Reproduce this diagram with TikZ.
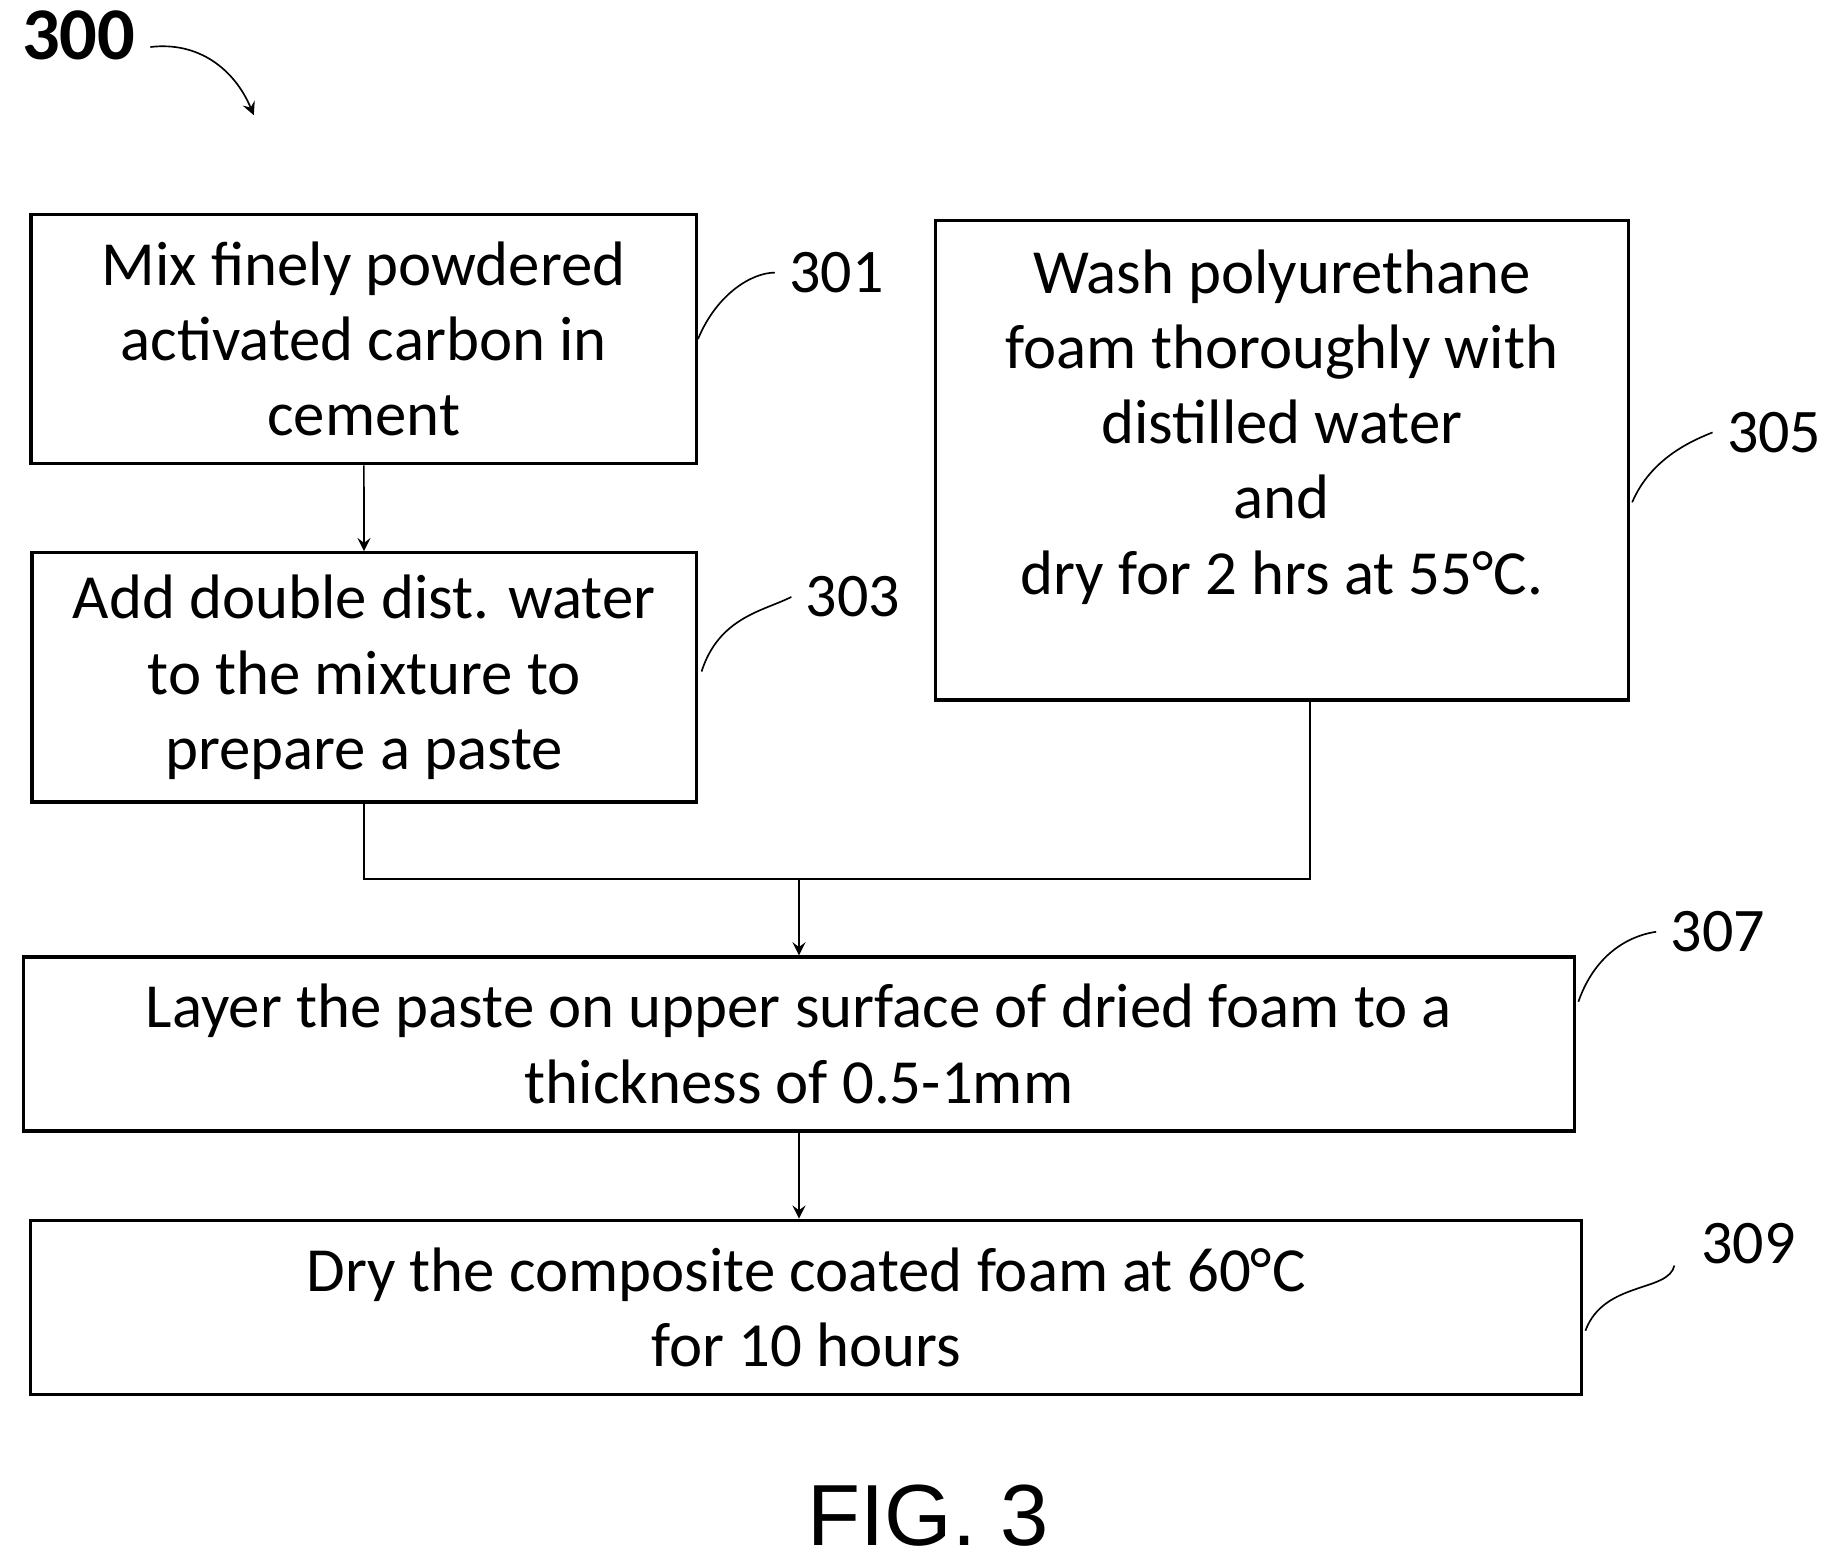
\documentclass[tikz,border=0pt]{standalone}
\usepackage{fontspec}
\setmainfont{Carlito}
\newfontfamily\capfont{Liberation Sans}
\usetikzlibrary{calc,positioning}
\tikzset{
  procbox/.style={draw,thick,inner sep=0pt,align=center,font=\fontsize{15.2}{18.2}\selectfont},
  refnum/.style={font=\fontsize{15}{18}\selectfont},
  squig/.style={thin},
  flow/.style={->,>=stealth,thin}
}
\begin{document}
\begin{tikzpicture}[x=0.01cm,y=-0.01cm]
\useasboundingbox (0,0) rectangle (1560,1332);
% boxes
\node[procbox,minimum width=5.66cm,minimum height=2.12cm] (mix) at (309.5,288.5) {Mix finely powdered\\activated carbon in\\cement};
\node[procbox,minimum width=5.65cm,minimum height=2.12cm] (add) at (310,576.5) {Add double dist. water\\to the mixture to\\prepare a paste};
\node[procbox,minimum width=5.89cm,minimum height=4.08cm] (wash) at (1091,391.5) {};
\node[align=center,font=\fontsize{15.2}{18.2}\selectfont,anchor=north] (washtxt) at (1091,200) {Wash polyurethane\\foam thoroughly with\\distilled water\\and\\dry for 2 hrs at 55°C.};
\node[procbox,minimum width=13.19cm,minimum height=1.48cm] (layer) at (680,888.5) {Layer the paste on upper surface of dried foam to a\\thickness of 0.5-1mm};
\node[procbox,minimum width=13.19cm,minimum height=1.48cm] (dry) at (686,1112.5) {Dry the composite coated foam at 60°C\\for 10 hours};
% connectors
\coordinate (join) at (680,748);
\draw[flow] (mix) -- (add);
\draw[thin] (add.south) |- (join) -| ($(wash.south)+(24,0)$);
\draw[flow] (join) -- (layer.north);
\draw[flow] (layer.south) -- (layer.south |- dry.north);
% reference numerals
\node[refnum] (n301) at (712,232) {301};
\node[refnum] (n303) at (726,508) {303};
\node[refnum] (n305) at (1510,368) {305};
\node[refnum] (n307) at (1462,793) {307};
\node[refnum] (n309) at (1488,1058) {309};
\draw[squig] (mix.east) .. controls (610,250) and (640,232) .. (n301.west);
\draw[squig] ($(add.east)+(3,-5)$) .. controls (612,525) and (650,520) .. (n303.west);
\draw[squig] ($(wash.east)+(2,36)$) .. controls (1405,390) and (1440,375) .. (n305.west);
\draw[squig] ($(layer.east)+(2,-36)$) .. controls (1360,805) and (1395,795) .. (n307.west);
\draw[squig] ($(dry.east)+(2,20)$) .. controls (1365,1090) and (1420,1100) .. (1425,1077);
\node[font=\fontsize{18}{22}\selectfont\bfseries] (fig300) at (67,30) {300};
\draw[flow] (128,40) .. controls (170,35) and (200,60) .. (216,98);
\node[font=\capfont\fontsize{21}{25}\selectfont] (caption) at (790,1290) {FIG. 3};
\end{tikzpicture}
\end{document}
